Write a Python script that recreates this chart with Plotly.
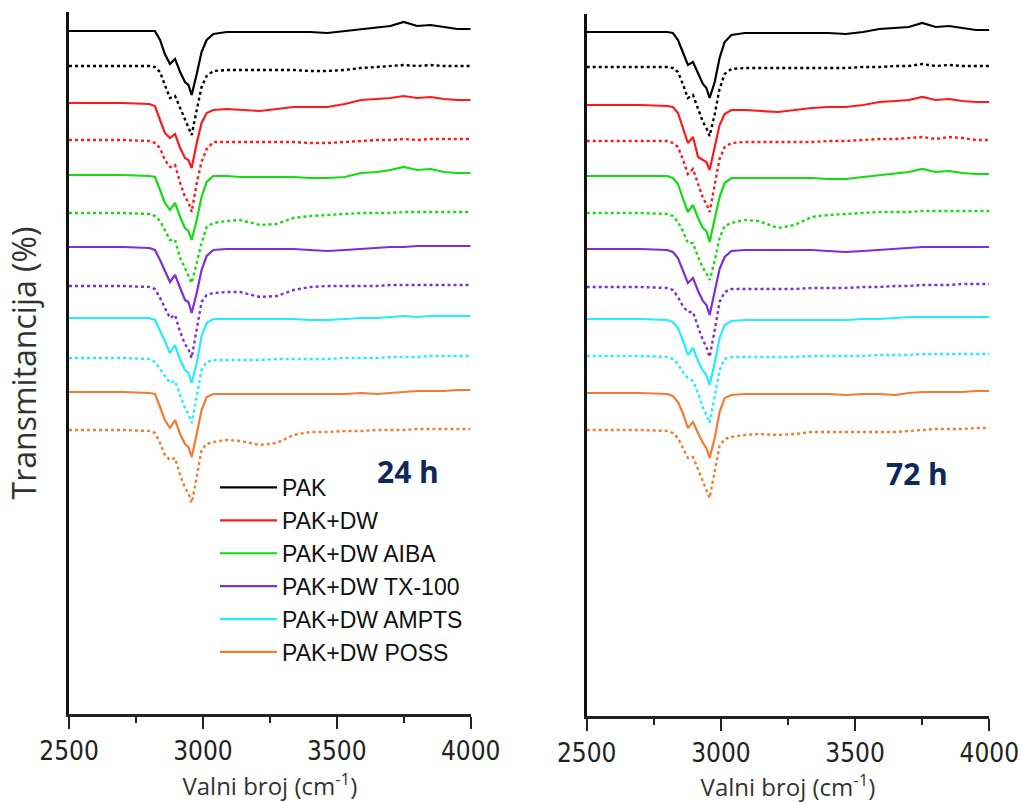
import plotly.graph_objects as go

# Wavenumber grid (cm^-1) at which the spectra were read
WAVENUMBER = [2500, 2700, 2800, 2821, 2840, 2858, 2877, 2896, 2915, 2933, 2946, 2958,
              2977, 2995, 3014, 3039, 3089, 3139, 3213, 3275, 3338, 3400, 3465, 3530,
              3590, 3650, 3700, 3750, 3800, 3850, 3900, 3950, 4000]

SAMPLES = ["PAK", "PAK+DW", "PAK+DW AIBA", "PAK+DW TX-100", "PAK+DW AMPTS", "PAK+DW POSS"]
COLORS = ["#000000", "#ff1a1a", "#11dd11", "#7b2fd6", "#22eeff", "#f07d32"]

# vertical stacking offsets (solid, dotted pairs for each sample)
OFFSET_24H = [683, 648, 611, 574, 539, 501, 467, 428, 396, 356, 322, 284]
OFFSET_72H = [684, 649, 611, 575, 540, 503, 467, 429, 397, 360, 323, 286]

# ---- 24 h : transmittance relative to baseline ----
PAK_24 = [0,0,0,0,-9,-23,-33,-28,-41,-51,-54,-64,-43,-21,-9,-3,-1,-1,-1,-1,-1,-1,-2,0,2,4,5,9,5,6,4,2,2]
PAK_24_DOT = [0,0,0,-1,-6,-19,-32,-30,-42,-52,-60,-69,-44,-21,-10,-5,-4,-4,-4,-4,-4,-5,-5,-4,-2,-1,0,1,0,1,0,0,0]
DW_24 = [0,0,-1,-3,-17,-30,-35,-31,-45,-55,-57,-65,-40,-20,-10,-7,-6,-7,-8,-6,-4,-4,-4,-1,3,4,5,7,5,6,4,3,3]
DW_24_DOT = [0,0,-1,-3,-8,-20,-27,-25,-43,-57,-62,-72,-43,-22,-9,-2,-2,-2,-2,-2,-2,-3,-3,-2,-1,0,0,1,0,1,1,1,1]
AIBA_24 = [0,0,-1,-2,-15,-28,-35,-28,-42,-53,-56,-65,-45,-22,-7,-1,-1,-2,-2,-2,-2,-3,-3,-2,2,3,5,8,5,6,3,2,2]
AIBA_24_DOT = [0,0,-1,-3,-8,-17,-27,-27,-45,-55,-62,-70,-50,-30,-14,-10,-8,-7,-12,-11,-5,-3,-2,-1,0,0,0,1,1,1,1,1,1]
TX_24 = [0,0,-1,-3,-13,-24,-35,-28,-41,-53,-55,-66,-46,-23,-9,-3,-2,-2,-2,-2,-2,-3,-4,-3,-2,-1,0,0,1,1,1,1,1]
TX_24_DOT = [0,0,-1,-3,-12,-22,-32,-29,-46,-58,-63,-72,-41,-16,-9,-7,-6,-6,-11,-10,-4,-1,0,0,0,0,1,1,1,1,1,1,1]
AMPTS_24 = [0,0,0,-2,-12,-23,-35,-27,-42,-52,-55,-65,-45,-18,-5,-1,-1,-1,-1,-1,-1,-2,-2,-1,0,0,1,2,1,2,2,2,2]
AMPTS_24_DOT = [0,0,-1,-4,-11,-18,-25,-23,-38,-50,-56,-65,-38,-12,-4,-2,-2,-2,-2,-1,-1,-1,-1,0,0,0,1,1,1,2,2,2,2]
POSS_24 = [0,0,-1,-2,-15,-28,-36,-28,-42,-52,-55,-65,-42,-18,-5,-2,-2,-2,-2,-2,-2,-2,-2,-2,-1,-2,-1,0,1,1,1,2,2]
POSS_24_DOT = [0,0,-1,-3,-13,-25,-30,-28,-45,-58,-63,-73,-47,-20,-14,-12,-10,-11,-15,-13,-5,-2,-2,-1,-1,0,0,0,1,1,1,1,1]

# ---- 72 h ----
PAK_72 = [0,0,0,-1,-8,-20,-33,-30,-42,-52,-56,-66,-50,-26,-10,-3,-1,-1,-1,-1,-1,-1,-2,0,3,4,5,9,5,6,4,2,2]
PAK_72_DOT = [0,0,0,-1,-5,-17,-31,-28,-42,-55,-61,-69,-47,-22,-7,-2,-1,-1,-1,-1,-1,-1,-1,0,0,1,1,3,1,2,1,1,1]
DW_72 = [0,0,-1,-2,-8,-22,-38,-32,-52,-55,-57,-65,-40,-20,-9,-5,-5,-6,-7,-5,-3,-2,-2,0,3,4,5,8,5,6,4,3,3]
DW_72_DOT = [0,0,0,-2,-6,-18,-33,-28,-44,-57,-63,-71,-44,-18,-6,-2,-1,-1,-1,-1,-1,0,0,1,2,2,3,4,2,4,3,1,1]
AIBA_72 = [0,0,0,-2,-8,-22,-36,-29,-42,-52,-55,-66,-44,-21,-7,-2,-2,-2,-2,-2,-2,-3,-3,-1,1,3,4,7,4,5,3,2,2]
AIBA_72_DOT = [0,0,-1,-3,-9,-18,-30,-30,-44,-55,-60,-67,-48,-25,-13,-10,-7,-8,-15,-12,-4,-2,-1,0,1,1,1,2,2,2,2,2,2]
TX_72 = [0,0,-1,-3,-9,-21,-34,-29,-42,-52,-56,-66,-44,-20,-8,-2,-1,-1,-1,-1,-1,-2,-3,-2,-1,0,1,2,2,2,2,2,2]
TX_72_DOT = [0,0,-1,-3,-10,-19,-25,-25,-40,-53,-60,-70,-43,-15,-5,-2,-2,-2,-2,-2,-1,-1,-1,0,0,1,1,2,2,2,3,3,3]
AMPTS_72 = [0,0,-1,-3,-9,-21,-36,-29,-42,-52,-56,-66,-44,-19,-6,-2,-1,-1,-1,-1,-1,-1,-1,0,0,1,2,2,2,2,2,2,2]
AMPTS_72_DOT = [0,0,-1,-3,-8,-16,-22,-25,-37,-52,-59,-67,-40,-14,-3,-1,-1,-1,-1,-1,0,0,0,0,1,1,1,2,2,2,2,2,2]
POSS_72 = [0,0,-1,-3,-9,-20,-35,-29,-40,-50,-55,-65,-45,-19,-5,-2,-1,-1,-1,-1,-1,-1,-2,-1,-1,-2,0,1,1,1,1,2,2]
POSS_72_DOT = [0,0,-1,-3,-8,-17,-28,-27,-40,-53,-60,-68,-42,-16,-9,-7,-5,-4,-5,-4,-2,-2,-2,-2,-2,-2,-1,0,1,1,1,2,2]

SERIES_24 = [PAK_24, PAK_24_DOT, DW_24, DW_24_DOT, AIBA_24, AIBA_24_DOT,
             TX_24, TX_24_DOT, AMPTS_24, AMPTS_24_DOT, POSS_24, POSS_24_DOT]
SERIES_72 = [PAK_72, PAK_72_DOT, DW_72, DW_72_DOT, AIBA_72, AIBA_72_DOT,
             TX_72, TX_72_DOT, AMPTS_72, AMPTS_72_DOT, POSS_72, POSS_72_DOT]

W, H = 1019, 803
fig = go.Figure()

for panel, (series, offsets, xa, ya) in enumerate([(SERIES_24, OFFSET_24H, "x", "y"),
                                                   (SERIES_72, OFFSET_72H, "x2", "y2")]):
    for i, (vals, off) in enumerate(zip(series, offsets)):
        s = i // 2
        dotted = i % 2 == 1
        fig.add_trace(go.Scatter(
            x=WAVENUMBER, y=[off + v for v in vals], mode="lines",
            xaxis=xa, yaxis=ya, name=SAMPLES[s],
            legendgroup=SAMPLES[s],
            showlegend=(panel == 0 and not dotted),
            line=dict(color=COLORS[s], width=2.2 if not dotted else 2.4,
                      dash="dot" if dotted else "solid"),
            hoverinfo="skip"))

def px_x(p):
    return p / W

def px_y(p):
    return 1 - p / H

tickfont = dict(family="Liberation Sans Narrow, Arial Narrow, DejaVu Sans Condensed, sans-serif",
                size=26, color="#222222")
xtitlefont = dict(family="Open Sans, Lato, sans-serif", size=24, color="#333333")
ytitlefont = dict(family="Open Sans, Lato, sans-serif", size=32, color="#333333")

xcommon = dict(range=[2500, 4000], tickvals=[2500, 3000, 3500, 4000],
               ticktext=["2500", "3000", "3500", "4000"],
               ticks="outside", ticklen=12, tickwidth=2, tickcolor="#222",
               minor=dict(tickvals=[2750, 3250, 3750], ticks="outside", ticklen=6,
                          tickwidth=2, tickcolor="#222"),
               showline=True, linecolor="#222", linewidth=2.5, showgrid=False,
               zeroline=False, tickfont=tickfont, automargin=False,
               ticklabeloverflow="allow",
               title=dict(text="Valni broj (cm<sup>-1</sup>)", font=xtitlefont, standoff=14))
ycommon = dict(range=[0, 702], showticklabels=False, ticks="", showline=True,
               linecolor="#111", linewidth=2.8, showgrid=False, zeroline=False,
               automargin=False)

fig.update_layout(
    width=W, height=H, margin=dict(l=0, r=0, t=0, b=0, autoexpand=False),
    paper_bgcolor="white", plot_bgcolor="white",
    xaxis=dict(domain=[px_x(69), px_x(470.7)], anchor="y", **xcommon),
    xaxis2=dict(domain=[px_x(586.7), px_x(989.3)], anchor="y2", **xcommon),
    yaxis=dict(domain=[px_y(714), px_y(12)], anchor="x",
               title=dict(text="Transmitancija (%)", font=ytitlefont, standoff=20), **ycommon),
    yaxis2=dict(domain=[px_y(716), px_y(14)], anchor="x2", **ycommon),
    legend=dict(x=px_x(215), y=px_y(466), xanchor="left", yanchor="top",
                bgcolor="rgba(0,0,0,0)", font=dict(family="Liberation Sans, Arial, sans-serif",
                                                   size=23, color="#111"),
                tracegroupgap=0, itemwidth=57),
    showlegend=True,
    annotations=[
        dict(text="<b>24 h</b>", x=3766, y=242, xref="x", yref="y", showarrow=False,
             font=dict(family="Open Sans, Lato, sans-serif", size=30, color="#10275a")),
        dict(text="<b>72 h</b>", x=3730, y=242, xref="x2", yref="y2", showarrow=False,
             font=dict(family="Open Sans, Lato, sans-serif", size=30, color="#10275a")),
    ],
)

fig.write_html("out.html", config={"displayModeBar": False},
               post_script="document.body.style.margin='0px';")
